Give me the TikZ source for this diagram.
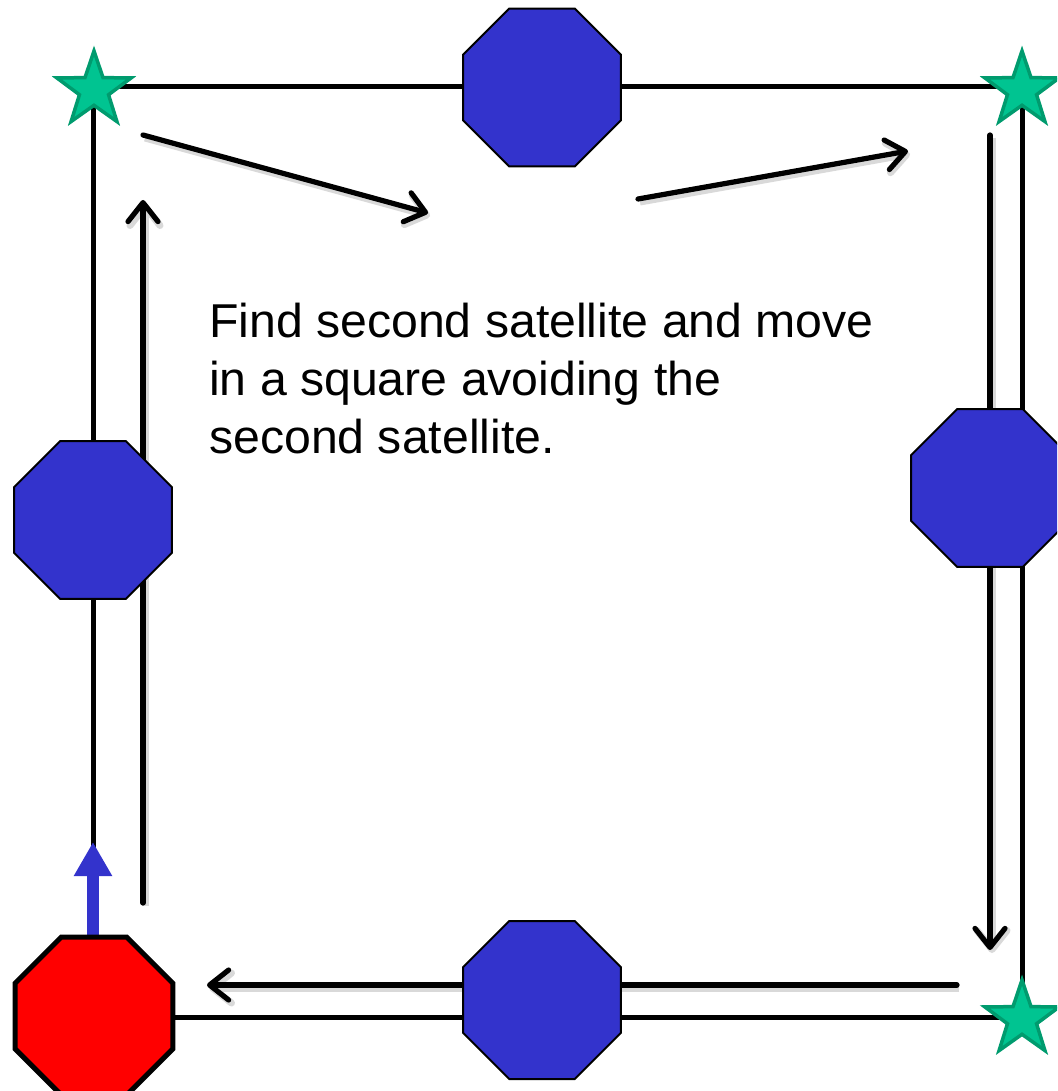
\documentclass[tikz,border=0pt]{standalone}
\usepackage{fontspec}
\setmainfont{Liberation Sans}[FakeStretch=1.015]
\usetikzlibrary{shapes.geometric,arrows.meta}
\definecolor{octblue}{RGB}{51,51,204}
\definecolor{starfill}{RGB}{0,196,145}
\definecolor{starline}{RGB}{0,155,110}
\begin{document}
\begin{tikzpicture}[x=1pt,y=-1pt,
  sqline/.style={line width=5pt, black},
  mover/.style={line width=5.2pt, black, line cap=round,
    -{Straight Barb[length=19pt,width=30pt,line cap=round,line join=round]},
    preaction={draw=black!15, line width=7pt, transform canvas={shift={(2pt,-3pt)}}}},
  octo/.style={regular polygon, regular polygon sides=8, minimum size=171pt,
    inner sep=0pt, outer sep=0pt, fill=octblue, draw=black, line width=2pt},
  redocto/.style={regular polygon, regular polygon sides=8, minimum size=171pt,
    inner sep=0pt, outer sep=0pt, fill=red, draw=black, line width=5pt},
  starmark/.style={star, star points=5, star point ratio=2.55, minimum size=78pt,
    inner sep=0pt, outer sep=0pt, fill=starfill, draw=starline, line width=3.5pt},
  bluearrow/.style={line width=12pt, octblue, -{Triangle[length=34pt,width=36pt]}}
]
\useasboundingbox (0,0) rectangle (1057,1091);
\clip (0,0) rectangle (1057,1091);

% square path corners
\coordinate (c1) at (93,87);
\coordinate (c2) at (1022,87);
\coordinate (c3) at (1022,1017);
\coordinate (c4) at (93,1017);
\draw[sqline] (c1) -- (c2) -- (c3) -- (c4) -- cycle;

% movement arrows
\coordinate (a1s) at (143,135);
\coordinate (a1e) at (428,213);
\coordinate (a2s) at (638,199);
\coordinate (a2e) at (908,151);
\coordinate (a3s) at (990,135);
\coordinate (a3e) at (990,950);
\coordinate (a4s) at (957,985);
\coordinate (a4e) at (207,985);
\coordinate (a5s) at (143,903);
\coordinate (a5e) at (143,200);
\draw[mover] (a1s) -- (a1e);
\draw[mover] (a2s) -- (a2e);
\draw[mover] (a3s) -- (a3e);
\draw[mover] (a4s) -- (a4e);
\draw[mover] (a5s) -- (a5e);

% start octagon and heading arrow
\coordinate (bs) at (93,950);
\coordinate (bt) at (93,842);
\draw[bluearrow] (bs) -- (bt);
\node[redocto] (start) at (94,1016) {};

% satellite octagons
\node[octo] (otop) at (542,87.5) {};
\node[octo] (oleft) at (93,520) {};
\node[octo] (oright) at (990,488) {};
\node[octo] (obottom) at (542,1000) {};

% corner stars
\node[starmark] (s1) at (94,90) {};
\node[starmark] (s2) at (1022,90) {};
\node[starmark] (s3) at (1022,1019) {};

% text
\node[anchor=north west, inner sep=0pt, align=left,
  font=\fontsize{47.5}{58}\selectfont] (txt) at (209,303)
  {Find second satellite and move\\in a square avoiding the\\second satellite.};
\end{tikzpicture}
\end{document}
